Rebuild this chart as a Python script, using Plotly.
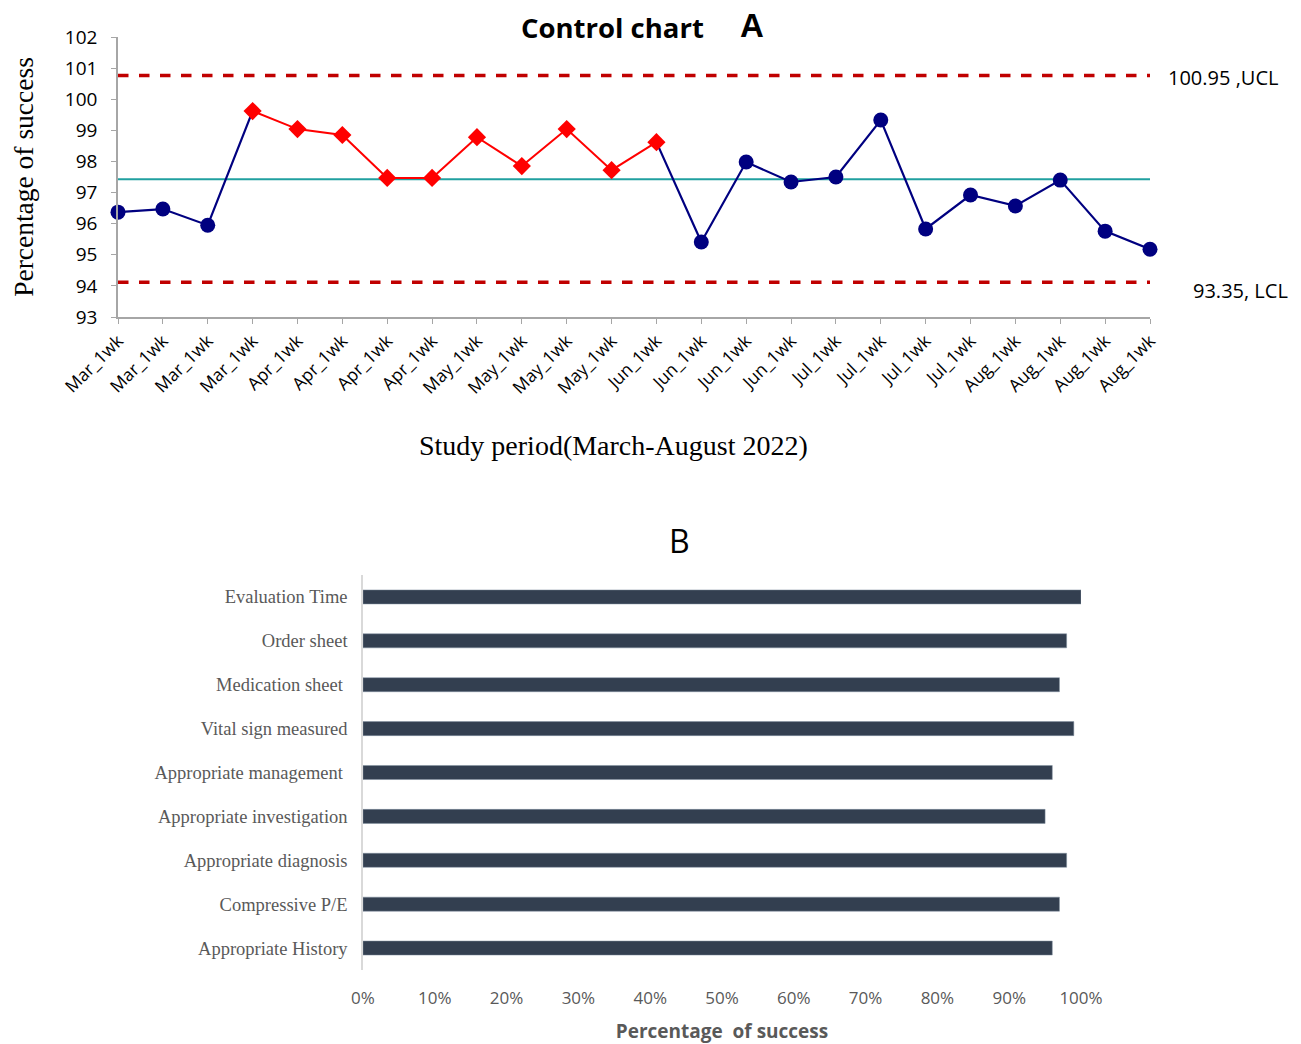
import plotly.graph_objects as go

# ---------------- Data ----------------
week_labels = ["Mar_1wk"] * 4 + ["Apr_1wk"] * 4 + ["May_1wk"] * 4 + ["Jun_1wk"] * 4 + ["Jul_1wk"] * 4 + ["Aug_1wk"] * 4
success_pct = [96.37, 96.47, 95.95, 99.62, 99.04, 98.85, 97.47, 97.47, 98.78, 97.85, 99.04, 97.72,
               98.62, 95.41, 97.98, 97.34, 97.50, 99.33, 95.83, 96.92, 96.57, 97.40, 95.76, 95.18]
run_flag = [False] * 3 + [True] * 10 + [False] * 11
center_line = 97.43
ucl_drawn = 100.76
lcl_drawn = 94.12
ucl_label = "100.95 ,UCL"
lcl_label = "93.35, LCL"

criteria = ["Appropriate History", "Compressive P/E", "Appropriate diagnosis", "Appropriate investigation",
            "Appropriate management ", "Vital sign measured", "Medication sheet ", "Order sheet", "Evaluation Time"]
criteria_pct = [0.96, 0.97, 0.98, 0.95, 0.96, 0.99, 0.97, 0.98, 1.00]

# ---------------- Figure ----------------
OFF = 8                     # page body margin
W, H = 1301 - OFF, 1044 - OFF
n = len(success_pct)
xs = list(range(n))

fig = go.Figure()

# control lines
for val in (ucl_drawn, lcl_drawn):
    fig.add_trace(go.Scatter(x=[0, n - 1], y=[val, val], mode="lines",
                             line=dict(color="#C00000", width=3.5, dash="dash"),
                             xaxis="x", yaxis="y", hoverinfo="skip", showlegend=False))
fig.add_trace(go.Scatter(x=[0, n - 1], y=[center_line, center_line], mode="lines",
                         line=dict(color="#20A0A0", width=2),
                         xaxis="x", yaxis="y", showlegend=False))

# blue line segments (keep endpoints adjacent to red run)
blue_line_y = []
for i, v in enumerate(success_pct):
    inner_run = run_flag[i] and (i > 0 and run_flag[i - 1]) and (i < n - 1 and run_flag[i + 1])
    blue_line_y.append(None if inner_run else v)
fig.add_trace(go.Scatter(x=xs, y=blue_line_y, mode="lines", connectgaps=False,
                         line=dict(color="#000080", width=2.2),
                         xaxis="x", yaxis="y", showlegend=False, cliponaxis=False))

red_x = [x for x, f in zip(xs, run_flag) if f]
red_y = [v for v, f in zip(success_pct, run_flag) if f]
fig.add_trace(go.Scatter(x=red_x, y=red_y, mode="lines+markers",
                         line=dict(color="#FF0000", width=2),
                         marker=dict(symbol="diamond", size=14, color="#FF0000"),
                         xaxis="x", yaxis="y", showlegend=False, cliponaxis=False))

blue_x = [x for x, f in zip(xs, run_flag) if not f]
blue_y = [v for v, f in zip(success_pct, run_flag) if not f]
fig.add_trace(go.Scatter(x=blue_x, y=blue_y, mode="markers",
                         marker=dict(symbol="circle", size=15, color="#000080"),
                         xaxis="x", yaxis="y", showlegend=False, cliponaxis=False))

# bar chart
fig.add_trace(go.Bar(x=criteria_pct, y=criteria, orientation="h", width=0.32,
                     marker=dict(color="#333F50", line=dict(color="#8090A0", width=0.5)),
                     xaxis="x2", yaxis="y2", showlegend=False))

def px_x(p):
    return (p - OFF) / W

def px_y(p):
    return 1 - (p - OFF) / H

def note(text, x, y, size, family="Open Sans", color="#000000"):
    return dict(text=text, x=px_x(x), y=px_y(y), xref="paper", yref="paper",
                xanchor="center", yanchor="middle", showarrow=False,
                font=dict(family=family, size=size, color=color))

fig.update_layout(
    width=W, height=H,
    margin=dict(l=0, r=0, t=0, b=0, autoexpand=False),
    paper_bgcolor="white", plot_bgcolor="white",
    font=dict(family="Liberation Sans", color="#404040"),
    xaxis=dict(domain=[px_x(118), px_x(1150)], range=[0, n - 1], automargin=False,
               tickmode="array", tickvals=xs, ticktext=week_labels, tickangle=-45,
               tickfont=dict(family="Open Sans", size=17.5, color="#000000"),
               showline=True, linecolor="#A6A6A6", linewidth=1.5,
               ticks="outside", ticklen=5, tickcolor="#A6A6A6",
               showgrid=False, zeroline=False, anchor="y"),
    yaxis=dict(domain=[px_y(317), px_y(37)], range=[93, 102], dtick=1, automargin=False,
               tickfont=dict(family="Open Sans", size=19, color="#000000"),
               showline=True, linecolor="#A6A6A6", linewidth=1.5,
               ticks="outside", ticklen=5, tickcolor="#A6A6A6",
               ticklabelstandoff=10,
               showgrid=False, zeroline=False, anchor="x",
               title=dict(text="Percentage of success",
                          font=dict(family="Liberation Serif", size=27.5, color="#000000"),
                          standoff=26)),
    xaxis2=dict(domain=[px_x(363), px_x(1081)], range=[0, 1.0], dtick=0.1, tickformat=".0%",
                automargin=False,
                tickfont=dict(family="Open Sans", size=17, color="#595959"),
                showline=False, showgrid=False, zeroline=False, anchor="y2",
                ticks="", ticklabelstandoff=16,
                title=dict(text="Percentage  of success",
                           font=dict(family="Open Sans", size=19, color="#595959", weight="bold"),
                           standoff=16)),
    yaxis2=dict(domain=[px_y(970), px_y(575)], range=[-0.5, 8.5], automargin=False,
                tickfont=dict(family="Liberation Serif", size=18.5, color="#595959"),
                showline=True, linecolor="#D9D9D9", linewidth=1.5,
                ticks="", showgrid=False, zeroline=False, anchor="x2",
                ticklabelstandoff=10),
    annotations=[
        note("<b>Control chart</b>", 612, 27, 27.5),
        note("<b>A</b>", 752, 26, 33, family="Liberation Sans"),
        note("B", 679, 540, 32),
        note("Study period(March-August 2022)", 613, 446, 28, family="Liberation Serif"),
        note(ucl_label, 1223, 78, 20),
        note(lcl_label, 1240, 290, 20),
    ],
)

fig.write_html("out.html")
